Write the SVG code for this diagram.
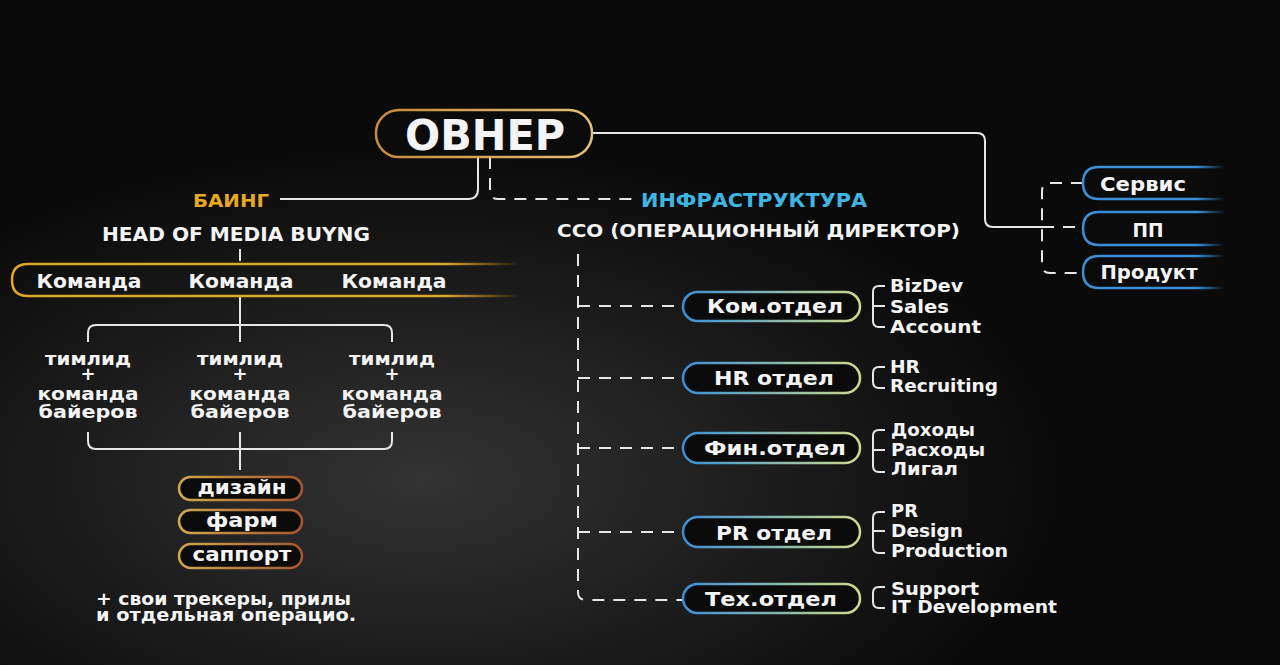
<svg xmlns="http://www.w3.org/2000/svg" width="1280" height="665" viewBox="0 0 1280 665">
<defs>
<radialGradient id="fog" cx="0.33" cy="0.72" r="0.5">
<stop offset="0" stop-color="#333333"/>
<stop offset="0.55" stop-color="#1c1c1c"/>
<stop offset="1" stop-color="#0a0a0a"/>
</radialGradient>
<linearGradient id="gOwner" x1="0" y1="0" x2="1" y2="0">
<stop offset="0" stop-color="#c98a3c"/>
<stop offset="1" stop-color="#e6c07a"/>
</linearGradient>
<linearGradient id="gTeam" x1="0" y1="0" x2="1" y2="0">
<stop offset="0" stop-color="#e2a52a"/>
<stop offset="0.85" stop-color="#e2a52a"/>
<stop offset="1" stop-color="#e2a52a" stop-opacity="0"/>
</linearGradient>
<linearGradient id="gSmall" x1="0" y1="0" x2="1" y2="0">
<stop offset="0" stop-color="#cfa850"/>
<stop offset="1" stop-color="#a8562c"/>
</linearGradient>
<linearGradient id="gDept" x1="0" y1="0" x2="1" y2="0">
<stop offset="0" stop-color="#3a8fd6"/>
<stop offset="1" stop-color="#cfd98a"/>
</linearGradient>
<linearGradient id="gRight" x1="0" y1="0" x2="1" y2="0">
<stop offset="0" stop-color="#3a8fd6"/>
<stop offset="0.8" stop-color="#3a8fd6"/>
<stop offset="1" stop-color="#3a8fd6" stop-opacity="0"/>
</linearGradient>
<linearGradient id="gRightFill" x1="0" y1="0" x2="1" y2="0">
<stop offset="0" stop-color="#0b0b0b"/>
<stop offset="0.8" stop-color="#0b0b0b"/>
<stop offset="1" stop-color="#0b0b0b" stop-opacity="0"/>
</linearGradient>
</defs>
<style>
text{font-family:"DejaVu Sans","Noto Sans",sans-serif;font-weight:700;fill:#f4f4f4}
.c{text-anchor:middle}
.ln{fill:none;stroke:#e6e6e6;stroke-width:2}
.dl{fill:none;stroke:#e6e6e6;stroke-width:2;stroke-dasharray:12 9}
.dept{fill:#0b0b0b;stroke:url(#gDept);stroke-width:2.5}
.sm{fill:#0b0b0b;stroke:url(#gSmall);stroke-width:2.5}
.rb{fill:url(#gRightFill);stroke:url(#gRight);stroke-width:2.5}
.t19{font-size:19px}
.t18{font-size:18px}
.d{font-size:20px}
.sub{font-size:17px}
</style>
<rect width="1280" height="665" fill="#0a0a0a"/>
<rect width="1280" height="665" fill="url(#fog)"/>

<g id="connectors">
<path class="ln" d="M592 133 H977 Q985 133 985 141 V219 Q985 227 993 227 H1042"/>
<path class="dl" d="M1083 183 H1050 Q1042 183 1042 191 V265 Q1042 273 1050 273 H1083"/>
<path class="dl" d="M1042 227 H1083"/>
<path class="ln" d="M478 157 V189 Q478 199 468 199 H280"/>
<path class="dl" d="M490 157 V191 Q490 199 498 199 H640"/>
<path class="ln" d="M240 249 V261"/>
<path class="ln" d="M240 296 V342"/>
<path class="ln" d="M88 342 V333 Q88 325 96 325 H384 Q392 325 392 333 V342"/>
<path class="ln" d="M88 432 V441 Q88 449 96 449 H384 Q392 449 392 441 V432"/>
<path class="ln" d="M240 432 V470"/>
<path class="dl" d="M578 254 V592 Q578 600 586 600 H684"/>
<path class="dl" d="M578 306 H684 M578 378 H684 M578 448 H684 M578 532 H684"/>
<path class="ln" d="M885 286 H879 Q873 286 873 292 V321 Q873 327 879 327 H885 M873 306 H885"/>
<path class="ln" d="M885 367 H879 Q873 367 873 373 V382 Q873 388 879 388 H885"/>
<path class="ln" d="M885 430 H879 Q873 430 873 436 V466 Q873 472 879 472 H885 M873 450 H885"/>
<path class="ln" d="M885 512 H879 Q873 512 873 518 V547 Q873 553 879 553 H885 M873 531 H885"/>
<path class="ln" d="M885 587 H879 Q873 587 873 593 V602 Q873 608 879 608 H885"/>
</g>

<g id="owner">
<rect x="376" y="110" width="216" height="47" rx="23" fill="#0b0b0b" stroke="url(#gOwner)" stroke-width="2.5"/>
<text class="c" x="485" y="150" font-size="42" textLength="160" lengthAdjust="spacingAndGlyphs">ОВНЕР</text>
</g>

<g id="buying">
<text x="193" y="207" font-size="17" style="fill:#e8a822" textLength="76" lengthAdjust="spacingAndGlyphs">БАИНГ</text>
<text x="102" y="241" font-size="20" textLength="268" lengthAdjust="spacingAndGlyphs">HEAD OF MEDIA BUYNG</text>
</g>

<g id="teams">
<path d="M520 264 H28 Q12 264 12 280 Q12 296 28 296 H520" fill="none" stroke="url(#gTeam)" stroke-width="2.5"/>
<text class="c t19" x="89" y="288" textLength="105" lengthAdjust="spacingAndGlyphs">Команда</text>
<text class="c t19" x="241" y="288" textLength="105" lengthAdjust="spacingAndGlyphs">Команда</text>
<text class="c t19" x="394" y="288" textLength="105" lengthAdjust="spacingAndGlyphs">Команда</text>
</g>

<g id="leads">
<g class="t18">
<text class="c" x="88" y="365" textLength="86" lengthAdjust="spacingAndGlyphs">тимлид</text>
<text class="c" x="88" y="380">+</text>
<text class="c" x="88" y="400" textLength="101" lengthAdjust="spacingAndGlyphs">команда</text>
<text class="c" x="88" y="418" textLength="99" lengthAdjust="spacingAndGlyphs">байеров</text>
<text class="c" x="240" y="365" textLength="86" lengthAdjust="spacingAndGlyphs">тимлид</text>
<text class="c" x="240" y="380">+</text>
<text class="c" x="240" y="400" textLength="101" lengthAdjust="spacingAndGlyphs">команда</text>
<text class="c" x="240" y="418" textLength="99" lengthAdjust="spacingAndGlyphs">байеров</text>
<text class="c" x="392" y="365" textLength="86" lengthAdjust="spacingAndGlyphs">тимлид</text>
<text class="c" x="392" y="380">+</text>
<text class="c" x="392" y="400" textLength="101" lengthAdjust="spacingAndGlyphs">команда</text>
<text class="c" x="392" y="418" textLength="99" lengthAdjust="spacingAndGlyphs">байеров</text>
</g>
</g>

<g id="design">
<rect class="sm" x="179" y="477" width="123" height="23" rx="11.5"/>
<text class="c t19" x="242" y="494" textLength="89" lengthAdjust="spacingAndGlyphs">дизайн</text>
</g>
<g id="farm">
<rect class="sm" x="179" y="510" width="123" height="23" rx="11.5"/>
<text class="c t19" x="242" y="527" textLength="72" lengthAdjust="spacingAndGlyphs">фарм</text>
</g>
<g id="support">
<rect class="sm" x="179" y="544" width="123" height="24" rx="12"/>
<text class="c t19" x="242" y="561" textLength="99" lengthAdjust="spacingAndGlyphs">саппорт</text>
</g>

<g id="note">
<text x="96" y="605" font-size="17" textLength="255" lengthAdjust="spacingAndGlyphs">+ свои трекеры, прилы</text>
<text x="96" y="621" font-size="17" textLength="260" lengthAdjust="spacingAndGlyphs">и отдельная операцио.</text>
</g>

<g id="infra">
<text x="641" y="207" font-size="19" style="fill:#3fb6e2" textLength="226" lengthAdjust="spacingAndGlyphs">ИНФРАСТРУКТУРА</text>
<text x="557" y="237" font-size="18.5" textLength="403" lengthAdjust="spacingAndGlyphs">CCO (ОПЕРАЦИОННЫЙ ДИРЕКТОР)</text>
</g>

<g id="kom">
<rect class="dept" x="683" y="292" width="177" height="29" rx="14.5"/>
<text class="c d" x="775" y="313" textLength="136" lengthAdjust="spacingAndGlyphs">Ком.отдел</text>
<text class="sub" x="890" y="292" textLength="73" lengthAdjust="spacingAndGlyphs">BizDev</text>
<text class="sub" x="890" y="313" textLength="59" lengthAdjust="spacingAndGlyphs">Sales</text>
<text class="sub" x="890" y="333" textLength="91" lengthAdjust="spacingAndGlyphs">Account</text>
</g>
<g id="hr">
<rect class="dept" x="683" y="363" width="177" height="30" rx="15"/>
<text class="c d" x="774" y="385" textLength="120" lengthAdjust="spacingAndGlyphs">HR отдел</text>
<text class="sub" x="890" y="373" textLength="30" lengthAdjust="spacingAndGlyphs">HR</text>
<text class="sub" x="890" y="392" textLength="108" lengthAdjust="spacingAndGlyphs">Recruiting</text>
</g>
<g id="fin">
<rect class="dept" x="683" y="433" width="177" height="30" rx="15"/>
<text class="c d" x="775" y="455" textLength="142" lengthAdjust="spacingAndGlyphs">Фин.отдел</text>
<text class="sub" x="891" y="436" textLength="84" lengthAdjust="spacingAndGlyphs">Доходы</text>
<text class="sub" x="891" y="456" textLength="94" lengthAdjust="spacingAndGlyphs">Расходы</text>
<text class="sub" x="891" y="475" textLength="67" lengthAdjust="spacingAndGlyphs">Лигал</text>
</g>
<g id="pr">
<rect class="dept" x="683" y="517" width="177" height="30" rx="15"/>
<text class="c d" x="774" y="540" textLength="116" lengthAdjust="spacingAndGlyphs">PR отдел</text>
<text class="sub" x="891" y="517" textLength="27" lengthAdjust="spacingAndGlyphs">PR</text>
<text class="sub" x="891" y="537" textLength="72" lengthAdjust="spacingAndGlyphs">Design</text>
<text class="sub" x="891" y="557" textLength="117" lengthAdjust="spacingAndGlyphs">Production</text>
</g>
<g id="tech">
<rect class="dept" x="683" y="584" width="177" height="29" rx="14.5"/>
<text class="c d" x="771" y="606" textLength="132" lengthAdjust="spacingAndGlyphs">Тех.отдел</text>
<text class="sub" x="891" y="595" textLength="88" lengthAdjust="spacingAndGlyphs">Support</text>
<text class="sub" x="891" y="613" textLength="166" lengthAdjust="spacingAndGlyphs">IT Development</text>
</g>

<g id="servis">
<path class="rb" d="M1225 167 H1099 Q1083 167 1083 183 Q1083 199 1099 199 H1225"/>
<text class="c t19" x="1143" y="191" textLength="86" lengthAdjust="spacingAndGlyphs">Сервис</text>
</g>
<g id="pp">
<path class="rb" d="M1225 212 H1099 Q1083 212 1083 228.5 Q1083 245 1099 245 H1225"/>
<text class="c t19" x="1148" y="237" textLength="31" lengthAdjust="spacingAndGlyphs">ПП</text>
</g>
<g id="product">
<path class="rb" d="M1225 256 H1099 Q1083 256 1083 272 Q1083 288 1099 288 H1225"/>
<text class="c t19" x="1149" y="279" textLength="97" lengthAdjust="spacingAndGlyphs">Продукт</text>
</g>
</svg>
